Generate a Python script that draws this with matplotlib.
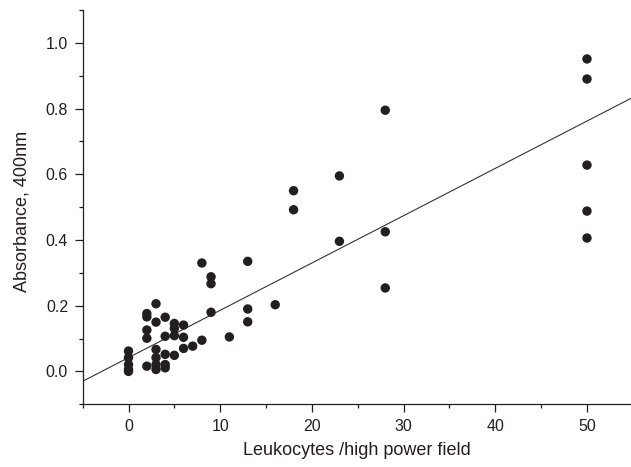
import numpy as np
import matplotlib
matplotlib.use('Agg')
import matplotlib.pyplot as plt
from matplotlib.ticker import MultipleLocator, FormatStrFormatter

# data
leuko = [0, 0, 0, 0, 0,
         2, 2, 2, 2, 2,
         3, 3, 3, 3, 3, 3,
         4, 4, 4, 4, 4,
         5, 5, 5, 5,
         6, 6, 6,
         7,
         8, 8,
         9, 9, 9,
         11,
         13, 13, 13,
         16,
         18, 18,
         23, 23,
         28, 28, 28,
         50, 50, 50, 50, 50]
absorb = [0.062, 0.042, 0.021, 0.006, 0.000,
          0.176, 0.166, 0.126, 0.101, 0.016,
          0.206, 0.150, 0.067, 0.042, 0.021, 0.006,
          0.165, 0.107, 0.052, 0.021, 0.011,
          0.146, 0.131, 0.109, 0.049,
          0.141, 0.104, 0.070,
          0.077,
          0.330, 0.095,
          0.288, 0.267, 0.180,
          0.105,
          0.335, 0.190, 0.151,
          0.203,
          0.550, 0.492,
          0.595, 0.396,
          0.795, 0.425, 0.254,
          0.951, 0.890, 0.628, 0.488, 0.406]

# fitted line
intercept = 0.042
slope = 0.0144

dark = '#231f20'
plt.rcParams['font.family'] = ['Liberation Sans', 'DejaVu Sans']

fig = plt.figure(figsize=(6.31, 4.67), dpi=100)
ax = fig.add_axes([0.131, 0.1343, 0.869, 0.8443])

ax.scatter(leuko, absorb, s=46, c=dark, edgecolors='none', zorder=3)
xl = np.array([-5, 54.8])
ax.plot(xl, intercept + slope * xl, color='#333333', lw=0.8)

ax.set_xlim(-5, 54.8)
ax.set_ylim(-0.1, 1.1)
ax.xaxis.set_major_locator(MultipleLocator(10))
ax.xaxis.set_minor_locator(MultipleLocator(5))
ax.yaxis.set_major_locator(MultipleLocator(0.2))
ax.yaxis.set_minor_locator(MultipleLocator(0.1))
ax.yaxis.set_major_formatter(FormatStrFormatter('%.1f'))

for s in ['top', 'right']:
    ax.spines[s].set_visible(False)
for s in ['left', 'bottom']:
    ax.spines[s].set_color(dark)
    ax.spines[s].set_linewidth(0.9)

ax.tick_params(which='major', length=6, width=0.9, color=dark, labelcolor=dark,
               labelsize=11.5, pad=4.5)
ax.tick_params(which='minor', length=3.2, width=0.9, color=dark)

ax.set_xlabel('Leukocytes /high power field', fontsize=13, color=dark)
ax.set_ylabel('Absorbance, 400nm', fontsize=13, color=dark)
ax.yaxis.set_label_coords(-0.095, 0.49)
ax.xaxis.set_label_coords(0.5, -0.095)

fig.savefig('out.png', dpi=100)
